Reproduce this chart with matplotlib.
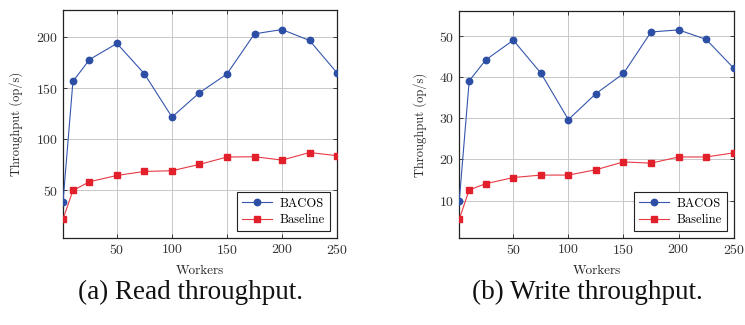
import matplotlib.pyplot as plt

# data
workers = [1, 10, 25, 50, 75, 100, 125, 150, 175, 200, 225, 250]
read_bacos = [39, 156.6, 178, 193.8, 164, 121.8, 145.6, 164, 203.2, 207.4, 196.7, 165]
read_base = [22, 50, 58.5, 64.7, 68.6, 69.3, 75.5, 82.7, 83, 79.7, 87.1, 84]
write_bacos = [10, 39.1, 44.2, 49, 41, 29.7, 36, 40.9, 51, 51.5, 49.2, 42.2]
write_base = [5.5, 12.6, 14.1, 15.6, 16.2, 16.2, 17.5, 19.4, 19.1, 20.6, 20.6, 21.6]
read_yticks = [50, 100, 150, 200]
write_yticks = [10, 20, 30, 40, 50]
xticks = [50, 100, 150, 200, 250]

blue = "#2c4ea5"
red = "#e2202b"

plt.rcParams["font.family"] = ["cmr10", "DejaVu Serif"]
plt.rcParams["mathtext.fontset"] = "cm"
plt.rcParams["axes.formatter.use_mathtext"] = True

fig = plt.figure(figsize=(7.45, 3.25), dpi=100)
ax1 = fig.add_axes([0.0846, 0.2677, 0.3678, 0.7015])
ax2 = fig.add_axes([0.6165, 0.2677, 0.3683, 0.6985])

panels = [
    (ax1, read_bacos, read_base, read_yticks, (3.5, 226.5), "(a) Read throughput.", 0.2557),
    (ax2, write_bacos, write_base, write_yticks, (0.9, 56.1), "(b) Write throughput.", 0.789),
]

for ax, bacos, base, yt, ylim, cap, cx in panels:
    ax.plot(workers, bacos, color="#3556ad", lw=0.8, marker="o", ms=4.6,
            mfc=blue, mec=blue, label="BACOS", zorder=3)
    ax.plot(workers, base, color="#e63a44", lw=0.8, marker="s", ms=4.4,
            mfc=red, mec=red, label="Baseline", zorder=3)
    ax.set_xlim(1, 250)
    ax.set_ylim(*ylim)
    ax.set_xticks(xticks)
    ax.set_yticks(yt)
    ax.grid(True, color="#c8c8c8", lw=0.7)
    ax.set_axisbelow(True)
    ax.tick_params(direction="in", top=True, right=True, labelsize=10,
                   length=3, width=0.6, colors="#222222", labelcolor="#333333")
    for s in ax.spines.values():
        s.set_linewidth(0.9)
        s.set_color("#222222")
    ax.set_xlabel("Workers", fontsize=9.5, labelpad=6, color="#222222")
    ax.set_ylabel("Throughput (op/s)", fontsize=9, labelpad=9, color="#222222")
    leg = ax.legend(loc="lower right", fontsize=9, frameon=True, fancybox=False,
                    edgecolor="#222222", framealpha=1, borderpad=0.4,
                    handlelength=2.4, handletextpad=0.6, labelspacing=0.35,
                    borderaxespad=0.55)
    leg.get_frame().set_linewidth(0.8)
    fig.text(cx, 0.10, cap, ha="center", va="center", fontsize=19.5,
             family="Liberation Serif", color="#111111")

fig.savefig("out.png", dpi=100)
